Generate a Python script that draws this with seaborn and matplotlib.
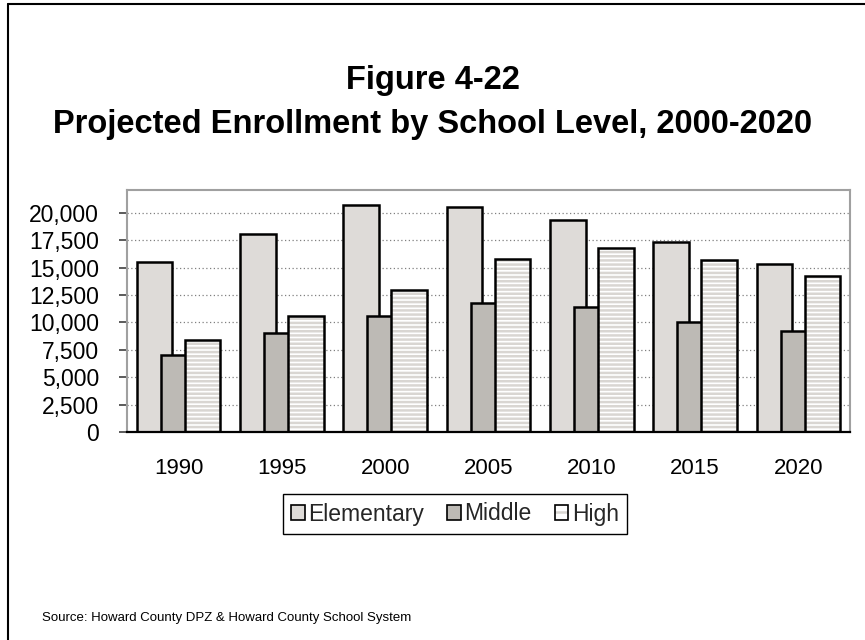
import numpy as np
import pandas as pd
import matplotlib
matplotlib.use("Agg")
import matplotlib.pyplot as plt
import seaborn as sns
from matplotlib.patches import Rectangle, Patch
from matplotlib.lines import Line2D
from matplotlib.ticker import FixedLocator, FuncFormatter

# Enrollment by school level (students)
years = ["1990", "1995", "2000", "2005", "2010", "2015", "2020"]
levels = ["Elementary", "Middle", "High"]
elementary = [15500, 18050, 20700, 20550, 19350, 17350, 15300]
middle = [7050, 9050, 10600, 11750, 11450, 10050, 9200]
high = [8350, 10600, 12950, 15800, 16800, 15650, 14250]
y_ticks = [0, 2500, 5000, 7500, 10000, 12500, 15000, 17500, 20000]

title_line1 = "Figure 4-22"
title_line2 = "Projected Enrollment by School Level, 2000-2020"
source_note = "Source: Howard County DPZ & Howard County School System"

elem_color = "#dedbd8"
mid_color = "#bdbab5"
stripe_color = "#d9d6d2"

df = pd.DataFrame({
    "Year": years * 3,
    "Level": [levels[0]] * 7 + [levels[1]] * 7 + [levels[2]] * 7,
    "Enrollment": elementary + middle + high,
})

sns.set_theme(style="white")
plt.rcParams["font.family"] = ["Liberation Sans", "DejaVu Sans"]
plt.rcParams["hatch.linewidth"] = 1.8

W, H = 865, 640
fig = plt.figure(figsize=(W / 100, H / 100), dpi=100)
fig.patch.set_facecolor("white")

left, right, top, bottom = 127, 850, 190, 432
ax = fig.add_axes([left / W, 1 - bottom / H, (right - left) / W, (bottom - top) / H])

sns.barplot(data=df, x="Year", y="Enrollment", hue="Level", hue_order=levels,
            palette=[elem_color, mid_color, "white"], dodge=True, width=0.8,
            errorbar=None, edgecolor="black", linewidth=1.8, legend=False,
            saturation=1, ax=ax)

# Excel-style overlapping clusters: wider bars, stepped closer together
bar_w = 0.345
step = 0.232
default_step = 0.8 / 3
for i, cont in enumerate(ax.containers):
    for p in cont.patches:
        center = p.get_x() + p.get_width() / 2 - (i - 1) * default_step
        p.set_width(bar_w)
        p.set_x(center + (i - 1) * step - bar_w / 2)
        p.set_zorder(3 + 2 * i)
        if levels[i] == "High":
            p.set_hatch("----")
            p.set_edgecolor(stripe_color)
            p.set_linewidth(0)
            ax.add_patch(Rectangle(p.get_xy(), p.get_width(), p.get_height(),
                                   fill=False, edgecolor="black", linewidth=1.8,
                                   zorder=4 + 2 * i))

ax.set_xlim(-0.5, len(years) - 0.5)
ax.set_ylim(0, 22080)
ax.yaxis.set_major_locator(FixedLocator(y_ticks))
ax.yaxis.set_major_formatter(FuncFormatter(lambda v, _: f"{int(v):,}"))
ax.set_xticks(range(len(years)))
ax.set_xticklabels(years)
ax.set_xticks(np.arange(-0.5, len(years)), minor=True)
ax.set_xlabel("")
ax.set_ylabel("")

ax.tick_params(axis="x", which="major", length=0, pad=19, labelsize=16, colors="black")
ax.tick_params(axis="x", which="minor", length=6, width=1.2, color="black", direction="out")
ax.tick_params(axis="y", length=6, width=1.2, color="#404040", direction="out",
               pad=14, labelsize=16.5, labelcolor="black", left=True)

for y in y_ticks[1:]:
    ax.axhline(y, color="#808080", linestyle=(0, (1, 2)), linewidth=0.9, zorder=1)

for side in ["top", "right", "left"]:
    ax.spines[side].set_color("#a0a0a0")
    ax.spines[side].set_linewidth(1.5)
ax.spines["bottom"].set_color("black")
ax.spines["bottom"].set_linewidth(1.6)
ax.spines["bottom"].set_zorder(10)

# Legend
h_elem = Patch(facecolor=elem_color, edgecolor="black", linewidth=1.2)
h_mid = Patch(facecolor=mid_color, edgecolor="black", linewidth=1.2)
h_high = (Patch(facecolor="white", edgecolor=stripe_color, hatch="--", linewidth=0),
          Patch(fill=False, edgecolor="black", linewidth=1.2))
leg = fig.legend([h_elem, h_mid, h_high], levels, loc="center",
                 bbox_to_anchor=(455 / W, 1 - 514 / H), ncol=3, fontsize=16.5,
                 frameon=True, fancybox=False, framealpha=1, edgecolor="black",
                 handlelength=0.6, handleheight=0.6, handletextpad=0.15,
                 columnspacing=1.0, borderpad=0.35, borderaxespad=0)
leg.get_frame().set_linewidth(1.0)

# Titles and source note
fig.text(0.5, 1 - 80 / H, title_line1, ha="center", va="center",
         fontsize=23.5, fontweight="bold", color="black")
fig.text(0.5, 1 - 124 / H, title_line2, ha="center", va="center",
         fontsize=23.5, fontweight="bold", color="black")
fig.text(42 / W, 1 - 618 / H, source_note, ha="left", va="center",
         fontsize=9.5, color="black")

# Outer frame (left and top edges)
fig.add_artist(Line2D([8 / W, 8 / W], [0, 1 - 4 / H], color="black", linewidth=1.5,
                      transform=fig.transFigure))
fig.add_artist(Line2D([8 / W, 1], [1 - 4 / H, 1 - 4 / H], color="black", linewidth=1.5,
                      transform=fig.transFigure))

fig.savefig("out.png", dpi=100, facecolor="white")
